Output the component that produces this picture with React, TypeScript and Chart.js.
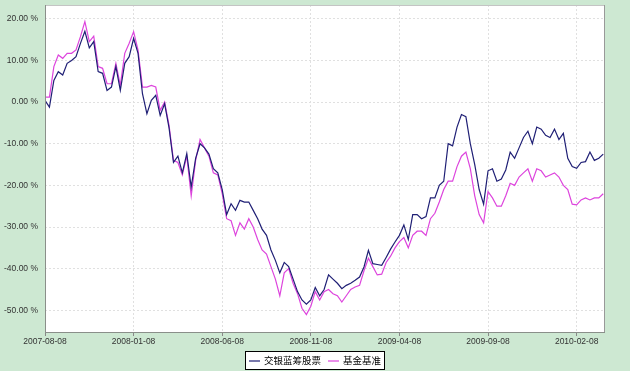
import React, { useEffect, useRef } from "react";
import { Chart, registerables } from "chart.js";

Chart.register(...registerables);

const seriesNames = ["交银蓝筹股票", "基金基准"];

const xTickIndex = [0, 20, 40, 60, 80, 100, 120];
const xTickLabels = ["2007-08-08", "2008-01-08", "2008-06-08", "2008-11-08", "2009-04-08", "2009-09-08", "2010-02-08"];
const yTicks = [-50, -40, -30, -20, -10, 0, 10, 20];

const fundValues = [
  0.4, -1.2, 5.2, 7.3, 6.5, 9.3, 10, 10.9, 14.1, 17,
  13, 14.5, 7.3, 6.9, 2.8, 3.6, 8.5, 2.8, 9.3, 10.9,
  15.3, 11.7, 2, -2.8, 0.4, 1.6, -3.2, -0.4, -6.2, -14.5,
  -13, -17, -12.4, -20.4, -13.5, -10, -11, -12.5, -16, -17,
  -21, -27, -24.4, -26, -23.6, -24, -24, -26, -28, -30.5,
  -32, -35.5, -38, -41, -38.5, -39.5, -42.5, -45.5, -47.5, -48.5,
  -47.5, -44.5, -46.5, -45, -41.5, -42.5, -43.5, -44.8, -44, -43.5,
  -42.8, -42, -39.6, -35.6, -38.8, -39, -39.2, -37.3, -35.3, -33.6,
  -32, -29.5, -33, -27, -27, -28, -27.5, -23, -23, -20,
  -19, -10, -10.5, -6, -3, -3.5, -10, -15, -21, -24.5,
  -16.5, -16, -19, -18.5, -16.3, -12, -13.5, -11, -8.5, -7,
  -10, -6, -6.5, -8, -8.5, -6.5, -9, -7.5, -13.5, -15.5,
  -15.9, -14.5, -14.3, -12, -14, -13.5, -12.5,
];

const benchmarkValues = [
  1.2, 1.2, 8.5, 11.3, 10.5, 11.7, 11.7, 12.5, 15.7, 19.3,
  14.5, 15.8, 8.5, 8.1, 4.4, 4.4, 9.3, 4, 11.7, 14.1,
  16.9, 12.5, 3.6, 3.6, 4, 3.6, -2, 0, -5.6, -14,
  -14.5, -17.5, -13, -22.5, -14, -9, -11, -13, -17, -17.5,
  -22, -28, -28.5, -32, -29, -30.5, -28, -30, -33, -35.5,
  -36.5, -39.5, -42.5, -46.5, -41, -40, -43.5, -46, -49.5, -51,
  -49, -45.5, -47.5, -45.5, -45, -46, -46.5, -48, -46.5, -45,
  -44.4, -44, -40.5, -37.5, -39.5, -41.5, -41.3, -38.5, -37, -35,
  -33.5, -32.5, -35, -32, -31, -31, -32, -28, -26.7, -24,
  -21, -19, -19, -15.5, -13, -12, -16, -22.5, -27, -29,
  -21.5, -23, -25, -25, -22.5, -19.5, -20, -18, -17, -16,
  -19, -16, -16.5, -18, -17.5, -17, -18, -20, -21, -24.5,
  -24.7, -23.5, -23, -23.5, -23, -23, -22,
];

const navy = "#1f1f75";
const magenta = "#dd44dd";
const fontFamily = '"Liberation Sans", Arial, sans-serif';

const framePlugin = {
  id: "frame",
  beforeDraw(chart: any) {
    const { ctx, chartArea, width, height } = chart;
    ctx.save();
    ctx.fillStyle = "#cde8d2";
    ctx.fillRect(0, 0, width, height);
    ctx.fillStyle = "#ffffff";
    ctx.fillRect(chartArea.left, chartArea.top, chartArea.right - chartArea.left, chartArea.bottom - chartArea.top);
    ctx.restore();
  },
  afterDraw(chart: any) {
    const { ctx, chartArea } = chart;
    const { left, right, top, bottom } = chartArea;
    ctx.save();
    ctx.setLineDash([]);
    ctx.lineWidth = 1;
    ctx.strokeStyle = "#c4c4c4";
    ctx.beginPath();
    ctx.moveTo(left, top + 0.5);
    ctx.lineTo(right, top + 0.5);
    ctx.stroke();
    ctx.strokeStyle = "#999999";
    ctx.beginPath();
    ctx.moveTo(right - 0.5, top);
    ctx.lineTo(right - 0.5, bottom);
    ctx.stroke();
    ctx.strokeStyle = "#8a8f8a";
    ctx.beginPath();
    ctx.moveTo(left + 0.5, top);
    ctx.lineTo(left + 0.5, bottom);
    ctx.moveTo(left, bottom + 0.5);
    ctx.lineTo(right, bottom + 0.5);
    ctx.stroke();

    // legend
    const font = '9.5px "Noto Sans CJK SC", sans-serif';
    ctx.font = font;
    const colors = [navy, magenta];
    const sample = 11;
    const gap = 4;
    const itemGap = 7;
    const widths = seriesNames.map((n) => ctx.measureText(n).width);
    const inner = widths.reduce((a, w) => a + sample + gap + w, 0) + itemGap * (seriesNames.length - 1);
    const boxW = Math.round(inner + 8);
    const boxH = 19;
    const boxX = Math.round(314.5 - boxW / 2);
    const boxY = 351;
    ctx.fillStyle = "#ffffff";
    ctx.fillRect(boxX, boxY, boxW, boxH);
    ctx.strokeStyle = "#000000";
    ctx.strokeRect(boxX + 0.5, boxY + 0.5, boxW - 1, boxH - 1);
    let x = boxX + 4;
    const cy = boxY + boxH / 2;
    seriesNames.forEach((n, i) => {
      ctx.strokeStyle = colors[i];
      ctx.lineWidth = 1.2;
      ctx.beginPath();
      ctx.moveTo(x, cy + 0.5);
      ctx.lineTo(x + sample, cy + 0.5);
      ctx.stroke();
      x += sample + gap;
      ctx.fillStyle = "#000000";
      ctx.textBaseline = "middle";
      ctx.textAlign = "left";
      ctx.fillText(n, x, cy);
      x += widths[i] + itemGap;
    });
    ctx.restore();
  },
};

export default function App() {
  const canvasRef = useRef<HTMLCanvasElement | null>(null);

  useEffect(() => {
    if (!canvasRef.current) return;
    const chart = new Chart(canvasRef.current, {
      type: "line",
      data: {
        datasets: [
          {
            label: seriesNames[0],
            data: fundValues.map((v, i) => ({ x: i, y: v })),
            borderColor: navy,
            borderWidth: 1.2,
            pointRadius: 0,
            tension: 0,
          },
          {
            label: seriesNames[1],
            data: benchmarkValues.map((v, i) => ({ x: i, y: v })),
            borderColor: magenta,
            borderWidth: 1.2,
            pointRadius: 0,
            tension: 0,
          },
        ],
      },
      options: {
        animation: false,
        responsive: true,
        maintainAspectRatio: false,
        layout: { padding: { top: 5, right: 25, left: 0, bottom: 0 } },
        plugins: { legend: { display: false }, tooltip: { enabled: false } },
        scales: {
          x: {
            type: "linear",
            min: 0,
            max: 126.4,
            afterBuildTicks(scale: any) {
              scale.ticks = xTickIndex.map((v) => ({ value: v }));
            },
            afterFit(scale: any) {
              scale.height = 39;
              scale.paddingLeft = 0;
              scale.paddingRight = 0;
            },
            grid: {
              color: "#e0e0e0",
              drawTicks: true,
              tickLength: 4,
              tickColor: "#888888",
            },
            border: { display: false, dash: [2, 2] },
            ticks: {
              padding: 1,
              maxRotation: 0,
              autoSkip: false,
              color: "#333333",
              font: { family: fontFamily, size: 8.5 },
              callback: (v: any) => {
                const k = xTickIndex.indexOf(Number(v));
                return k >= 0 ? xTickLabels[k] : "";
              },
            },
          },
          y: {
            type: "linear",
            min: -55.2,
            max: 23.3,
            afterBuildTicks(scale: any) {
              scale.ticks = yTicks.map((v) => ({ value: v }));
            },
            afterFit(scale: any) {
              scale.width = 45;
              scale.paddingTop = 0;
              scale.paddingBottom = 0;
            },
            grid: { color: "#e0e0e0", drawTicks: false },
            border: { display: false, dash: [2, 2] },
            ticks: {
              padding: 7,
              color: "#333333",
              font: { family: fontFamily, size: 8.5 },
              callback: (v: any) => Number(v).toFixed(2) + " %",
            },
          },
        },
      },
      plugins: [framePlugin],
    });
    return () => chart.destroy();
  }, []);

  return (
    <div style={{ position: "absolute", left: 0, top: 0, width: 630, height: 371 }}>
      <canvas ref={canvasRef} />
    </div>
  );
}
